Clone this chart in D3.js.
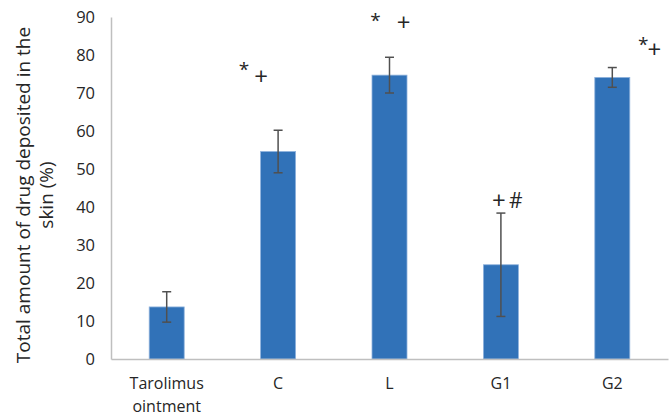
<!DOCTYPE html>
<html>
<head>
<meta charset="utf-8">
<script src="https://cdn.jsdelivr.net/npm/d3@7"></script>
<style>
  body { margin: 0; background: #fff; }
  text { font-family: "Open Sans", "Liberation Sans", sans-serif; fill: #262626; }
</style>
</head>
<body>
<div class="chart"></div>
<script>
// DATA
const categories = ["Tarolimus ointment", "C", "L", "G1", "G2"];
const values = [13.7, 54.6, 74.7, 24.8, 74.1];
const errors = [4.0, 5.6, 4.7, 13.6, 2.6];
const yTicks = [0, 10, 20, 30, 40, 50, 60, 70, 80, 90];
// significance marks: category, symbol, level (data units)
const markCats = ["C", "C", "L", "L", "G1", "G1", "G2", "G2"];
const markSymbols = ["*", "+", "*", "+", "+", "#", "*", "+"];
const markLevels = [74.5, 72.2, 87.5, 86.2, 39.5, 39.8, 81, 79.2];

// GLOBAL CONSTANTS
const MARGINS = {left: 111, right: 4, top: 17, bottom: 57};
const FRAME_WIDTH = 672;
const FRAME_HEIGHT = 416;
const GRAPH_WIDTH = FRAME_WIDTH - MARGINS.left - MARGINS.right;
const GRAPH_HEIGHT = FRAME_HEIGHT - MARGINS.top - MARGINS.bottom;
const BAR_WIDTH = 35;
const markDx = [-34, -17, -14, 14, -2, 15, 31, 42];

const FRAME = d3.select(".chart")
  .append("svg")
    .attr("width", FRAME_WIDTH)
    .attr("height", FRAME_HEIGHT);

const G = FRAME.append("g")
  .attr("transform", "translate(" + MARGINS.left + "," + MARGINS.top + ")");

const X_SCALE = d3.scaleBand()
  .domain(categories)
  .range([0, GRAPH_WIDTH]);

const Y_SCALE = d3.scaleLinear()
  .domain([0, 90])
  .range([GRAPH_HEIGHT, 0]);

// Y AXIS (labels only, plus line)
const yAxis = G.append("g")
  .call(d3.axisLeft(Y_SCALE).tickValues(yTicks).tickSize(0).tickPadding(16));
yAxis.select(".domain").attr("stroke", "#bfbfbf").attr("stroke-width", 1.5);
yAxis.selectAll("text").attr("font-size", "16.5px").attr("fill", "#262626")
  .attr("font-family", "Open Sans, sans-serif");

// BARS
G.selectAll(".bar")
  .data(values)
  .enter()
  .append("rect")
    .attr("class", "bar")
    .attr("x", (d, i) => X_SCALE(categories[i]) + X_SCALE.bandwidth() / 2 - BAR_WIDTH / 2)
    .attr("y", (d) => Y_SCALE(d))
    .attr("width", BAR_WIDTH)
    .attr("height", (d) => GRAPH_HEIGHT - Y_SCALE(d))
    .style("fill", "#3172b8")
    .style("stroke", "#8fb2dc")
    .style("stroke-width", 0.8);

// X AXIS
const xAxis = G.append("g")
  .attr("transform", "translate(0," + GRAPH_HEIGHT + ")")
  .call(d3.axisBottom(X_SCALE).tickSize(0).tickPadding(19));
xAxis.select(".domain").attr("stroke", "#bfbfbf").attr("stroke-width", 1.5);
xAxis.selectAll("text")
  .attr("font-size", "16px")
  .attr("fill", "#262626")
  .attr("font-family", "Open Sans, sans-serif")
  .each(function(d) {
    const words = d.split(" ");
    if (words.length > 1) {
      const t = d3.select(this).text(null);
      words.forEach((w, k) => {
        t.append("tspan").attr("x", 0).attr("dy", k === 0 ? "0.71em" : "1.4em").text(w);
      });
      t.attr("dy", null);
    }
  });

// ERROR BARS
const errG = G.append("g").attr("stroke", "#505050").attr("stroke-width", 1.5);
values.forEach((v, i) => {
  const cx = X_SCALE(categories[i]) + X_SCALE.bandwidth() / 2;
  const top = Y_SCALE(v + errors[i]);
  const bot = Y_SCALE(v - errors[i]);
  errG.append("line").attr("x1", cx).attr("x2", cx).attr("y1", top).attr("y2", bot);
  errG.append("line").attr("x1", cx - 4.5).attr("x2", cx + 4.5).attr("y1", top).attr("y2", top);
  errG.append("line").attr("x1", cx - 4.5).attr("x2", cx + 4.5).attr("y1", bot).attr("y2", bot);
});

// SIGNIFICANCE MARKS
G.selectAll(".mark")
  .data(markSymbols)
  .enter()
  .append("text")
    .attr("class", "mark")
    .attr("x", (d, i) => X_SCALE(markCats[i]) + X_SCALE.bandwidth() / 2 + markDx[i])
    .attr("y", (d, i) => Y_SCALE(markLevels[i]))
    .attr("text-anchor", "middle")
    .attr("font-size", (d) => d === "+" ? "24px" : (d === "#" ? "21px" : "19px"))
    .text((d) => d);

// Y AXIS TITLE
const title = FRAME.append("text")
  .attr("transform", "translate(30," + (MARGINS.top + GRAPH_HEIGHT / 2 + 7) + ") rotate(-90)")
  .attr("text-anchor", "middle")
  .attr("font-size", "19px");
title.append("tspan").attr("x", 0).attr("dy", 0).text("Total amount of drug deposited in the");
title.append("tspan").attr("x", 0).attr("dy", "1.2em").text("skin (%)");
</script>
</body>
</html>
